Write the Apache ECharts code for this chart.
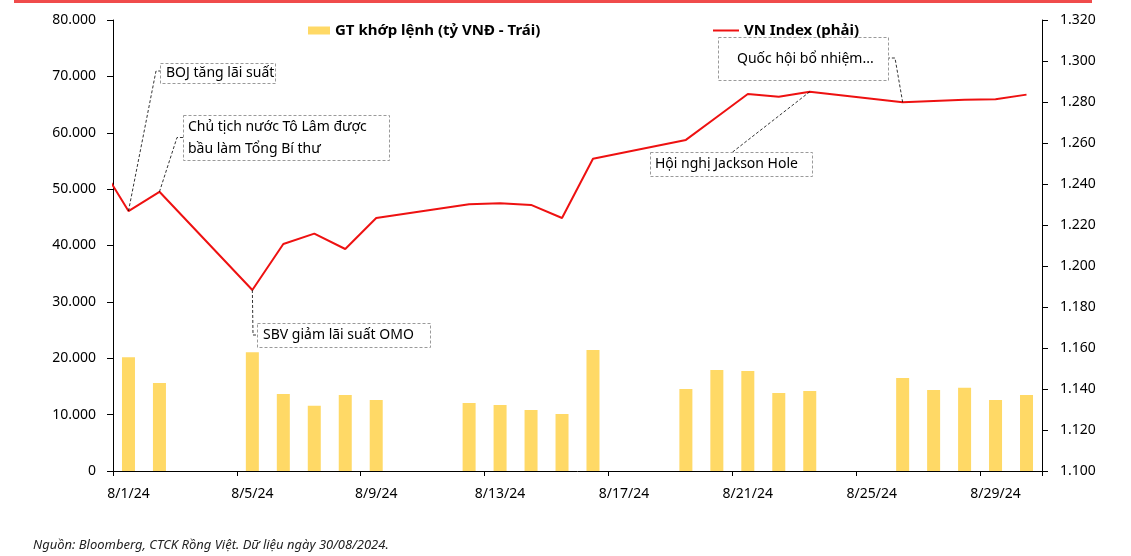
<!DOCTYPE html>
<html>
<head>
<meta charset="utf-8">
<script src="https://cdn.jsdelivr.net/npm/echarts@6/dist/echarts.min.js"></script>
<style>
html,body{margin:0;padding:0;background:#fff;}
#chart{width:1131px;height:556px;}
</style>
</head>
<body>
<div id="chart"></div>
<script>
// ---------- DATA ----------
const dates = ['8/1/24','8/2/24','8/3/24','8/4/24','8/5/24','8/6/24','8/7/24','8/8/24','8/9/24','8/10/24',
  '8/11/24','8/12/24','8/13/24','8/14/24','8/15/24','8/16/24','8/17/24','8/18/24','8/19/24','8/20/24',
  '8/21/24','8/22/24','8/23/24','8/24/24','8/25/24','8/26/24','8/27/24','8/28/24','8/29/24','8/30/24'];
// GT khớp lệnh (tỷ VNĐ) — null on non-trading days
const volume = [20170,15610,null,null,21060,13660,11590,13480,12600,null,
  null,12060,11700,10820,10110,21470,null,null,14550,17920,
  17740,13840,14190,null,null,16500,14370,14780,12600,13480];
// VN Index trading days (day of August; 0 = 31/7/24) and closes
const vnDays  = [0,1,2,5,6,7,8,9,12,13,14,15,16,19,20,21,22,23,26,27,28,29,30];
const vnIndex = [1251.5,1226.8,1236.2,1188.3,1210.7,1215.8,1208.3,1223.4,1230.1,1230.6,1229.8,1223.4,
  1252.3,1261.5,1272.7,1283.9,1282.6,1285.0,1279.9,1280.5,1281.1,1281.3,1283.6];
const seriesNames = ['GT khớp lệnh (tỷ VNĐ - Trái)','VN Index (phải)'];
const annotations = [
  {text:'BOJ tăng lãi suất', day:1},
  {text:'Chủ tịch nước Tô Lâm được\nbầu làm Tổng Bí thư', day:2},
  {text:'SBV giảm lãi suất OMO', day:5},
  {text:'Hội nghị Jackson Hole', day:23},
  {text:'Quốc hội bổ nhiệm...', day:26}
];
const sourceNote = 'Nguồn: Bloomberg, CTCK Rồng Việt. Dữ liệu ngày 30/08/2024.';

// ---------- LAYOUT ----------
const FONT = 'Noto Sans';
const boxLayout = [
  {x:160.5,y:63.5,w:115,h:20,tx:166,leader:[[156,71],[160.5,71]]},
  {x:183.5,y:115.5,w:206,h:45,tx:188,leader:[[177,137.5],[183.5,137.5]]},
  {x:257.5,y:323.5,w:173,h:24,tx:263,leader:[[253,335],[257.5,335]]},
  {x:650.5,y:152.5,w:162,h:24,tx:655,leader:[[732,152.5]]},
  {x:718.5,y:37.5,w:170,h:43,tx:737,leader:[[895,58],[888.5,58]]}
];
function fmt(v){ return String(v).replace(/\B(?=(\d{3})+(?!\d))/g,'.'); }

const chart = echarts.init(document.getElementById('chart'), null, {renderer:'canvas'});
const axisLine = {show:true, lineStyle:{color:'#000', width:1}};
const legendText = {fontFamily:FONT, fontSize:15, fontWeight:'bold', color:'#000'};
const option = {
  animation:false,
  backgroundColor:'#fff',
  textStyle:{fontFamily:FONT},
  grid:{left:113, right:89, top:20, bottom:85, containLabel:false, outerBoundsMode:'none'},
  title:{text:sourceNote, left:28, top:534,
    textStyle:{fontFamily:FONT, fontSize:13, fontStyle:'italic', fontWeight:'normal', color:'#222'}},
  legend:[
    {data:[{name:seriesNames[0], icon:'rect'}], left:303, top:18, itemWidth:22, itemHeight:8, selectedMode:false,
      textStyle:legendText, z:60},
    {data:[{name:seriesNames[1], icon:'rect'}], left:708, top:18, itemWidth:26, itemHeight:2, selectedMode:false,
      textStyle:legendText, z:60}
  ],
  xAxis:[
    {type:'category', data:dates, boundaryGap:true, axisLine:axisLine,
      axisTick:{show:true, interval:3, length:5, lineStyle:{color:'#000'}},
      axisLabel:{interval:3, margin:16, fontSize:14, color:'#000', fontFamily:FONT}},
    {type:'value', min:0.5, max:30.5, show:false}
  ],
  yAxis:[
    {type:'value', min:0, max:80000, interval:10000, position:'left', splitLine:{show:false},
      axisLine:axisLine, axisTick:{show:true, length:6, lineStyle:{color:'#000'}},
      axisLabel:{formatter:fmt, margin:17, fontSize:14, color:'#000', fontFamily:FONT}},
    {type:'value', min:1100, max:1320, interval:20, position:'right', splitLine:{show:false},
      axisLine:axisLine, axisTick:{show:true, length:6, lineStyle:{color:'#000'}},
      axisLabel:{formatter:fmt, margin:18, fontSize:14, color:'#000', fontFamily:FONT}}
  ],
  series:[
    {name:seriesNames[0], type:'bar', xAxisIndex:0, yAxisIndex:0, data:volume,
      barWidth:13, itemStyle:{color:'#FFD966'}},
    {name:seriesNames[1], type:'line', xAxisIndex:1, yAxisIndex:1,
      data:vnDays.map((d,i)=>[d, vnIndex[i]]), symbol:'none', clip:true,
      lineStyle:{color:'#EE1111', width:2}, itemStyle:{color:'#EE1111'}}
  ]
};
chart.setOption(option);

// annotations anchored to data points
const graphics = [{type:'rect', shape:{x:14, y:0, width:1078, height:3}, style:{fill:'#F04B4B'}, silent:true}];
annotations.forEach((a,i)=>{
  const L = boxLayout[i];
  const idx = vnDays.indexOf(a.day);
  const p = chart.convertToPixel({xAxisIndex:1, yAxisIndex:1}, [a.day, vnIndex[idx]]);
  graphics.push({type:'rect', shape:{x:L.x, y:L.y, width:L.w, height:L.h},
    style:{fill:'#fff', stroke:'#9a9a9a', lineWidth:1, lineDash:[3,2]}, z:50});
  graphics.push({type:'text', x:L.tx, y:L.y + L.h/2, z:51,
    style:{text:a.text, font:'14px "'+FONT+'"', fill:'#000', verticalAlign:'middle', align:'left', lineHeight:22}});
  graphics.push({type:'polyline', shape:{points:[p].concat(L.leader)}, z:49,
    style:{stroke:'#000', lineWidth:0.8, lineDash:[3,2], fill:null}});
});
chart.setOption({graphic:graphics});
</script>
</body>
</html>
